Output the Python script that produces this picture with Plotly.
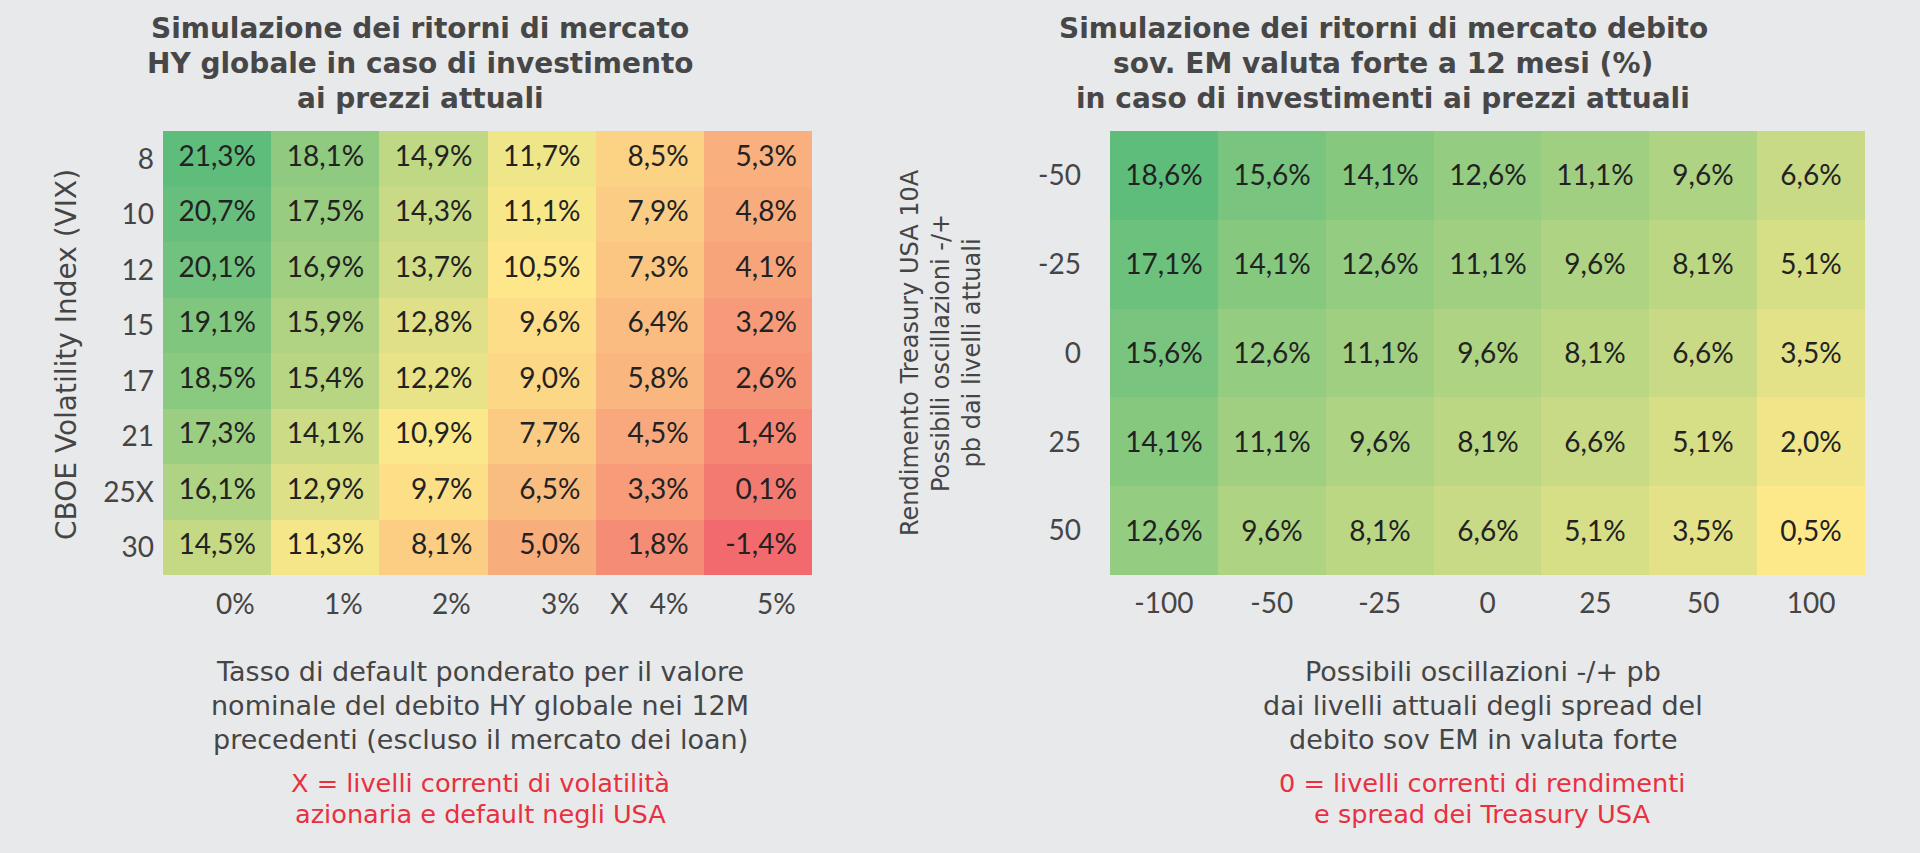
import numpy as np
import plotly.graph_objects as go

# ---------------- data ----------------
hy_default_labels = ["0%", "1%", "2%", "3%", "X\u00a0\u00a0\u00a04%", "5%"]
hy_vix_labels = ["8", "10", "12", "15", "17", "21", "25X", "30"]
hy_returns = [
    [21.3, 18.1, 14.9, 11.7, 8.5, 5.3],
    [20.7, 17.5, 14.3, 11.1, 7.9, 4.8],
    [20.1, 16.9, 13.7, 10.5, 7.3, 4.1],
    [19.1, 15.9, 12.8, 9.6, 6.4, 3.2],
    [18.5, 15.4, 12.2, 9.0, 5.8, 2.6],
    [17.3, 14.1, 10.9, 7.7, 4.5, 1.4],
    [16.1, 12.9, 9.7, 6.5, 3.3, 0.1],
    [14.5, 11.3, 8.1, 5.0, 1.8, -1.4],
]

em_spread_labels = ["-100", "-50", "-25", "0", "25", "50", "100"]
em_treasury_labels = ["-50", "-25", "0", "25", "50"]
em_returns = [
    [18.6, 15.6, 14.1, 12.6, 11.1, 9.6, 6.6],
    [17.1, 14.1, 12.6, 11.1, 9.6, 8.1, 5.1],
    [15.6, 12.6, 11.1, 9.6, 8.1, 6.6, 3.5],
    [14.1, 11.1, 9.6, 8.1, 6.6, 5.1, 2.0],
    [12.6, 9.6, 8.1, 6.6, 5.1, 3.5, 0.5],
]

title_left = ["Simulazione dei ritorni di mercato", "HY globale in caso di investimento", "ai prezzi attuali"]
title_right = ["Simulazione dei ritorni di mercato debito", "sov. EM valuta forte a 12 mesi (%)",
               "in caso di investimenti ai prezzi attuali"]
ytitle_left = "CBOE Volatility Index (VIX)"
ytitle_right = "Rendimento Treasury USA 10A<br>Possibili oscillazioni -/+<br>pb dai livelli attuali"
xnote_left = ["Tasso di default ponderato per il valore", "nominale del debito HY globale nei 12M",
              "precedenti (escluso il mercato dei loan)"]
xnote_right = ["Possibili oscillazioni -/+ pb", "dai livelli attuali degli spread del",
               "debito sov EM in valuta forte"]
rednote_left = ["X = livelli correnti di volatilità", "azionaria e default negli USA"]
rednote_right = ["0 = livelli correnti di rendimenti", "e spread dei Treasury USA"]

# ---------------- style ----------------
W, H = 1920, 853
BG = "#e8e9eb"
GREEN, YELLOW, RED = "#5fbd7c", "#fee98a", "#f26a6e"
TXT = "#454545"
REDTXT = "#e8303f"
NUMFONT = "Lato"
WIDEFONT = "DejaVu Sans"

def px_x(p):
    return p / W

def px_y(p):
    return 1 - p / H

def fmt(v):
    return f"{v:.1f}%".replace(".", ",")

hy = np.array(hy_returns)
em = np.array(em_returns)
hy_min, hy_max = hy.min(), hy.max()
hy_mid = (np.percentile(hy, 50) - hy_min) / (hy_max - hy_min)

fig = go.Figure()

# left heatmap
fig.add_trace(go.Heatmap(
    z=hy_returns, x=list(range(len(hy_default_labels))), y=list(range(len(hy_vix_labels))),
    colorscale=[[0, RED], [hy_mid, YELLOW], [1, GREEN]], zmin=hy_min, zmax=hy_max,
    showscale=False, hoverinfo="skip", xaxis="x", yaxis="y"))

# left cell text (right-aligned)
tx, ty, tt = [], [], []
for r, row in enumerate(hy_returns):
    for c, v in enumerate(row):
        tx.append(c + 0.36)
        ty.append(r)
        tt.append(fmt(v))
fig.add_trace(go.Scatter(
    x=tx, y=ty, text=tt, mode="text", textposition="middle left",
    textfont=dict(family=NUMFONT, size=28, color="#222222"),
    hoverinfo="skip", showlegend=False, xaxis="x", yaxis="y"))

# right heatmap
fig.add_trace(go.Heatmap(
    z=em_returns, x=list(range(len(em_spread_labels))), y=list(range(len(em_treasury_labels))),
    colorscale=[[0, YELLOW], [1, GREEN]], zmin=em.min(), zmax=em.max(),
    text=[[fmt(v) for v in row] for row in em_returns], texttemplate="%{text}",
    textfont=dict(family=NUMFONT, size=28, color="#222222"),
    showscale=False, hoverinfo="skip", xaxis="x2", yaxis="y2"))

top, bottom = 131, 575
ydom = [px_y(bottom), px_y(top)]
tickfont = dict(family=NUMFONT, size=28, color=TXT)

fig.update_layout(
    width=W, height=H, margin=dict(l=0, r=0, t=0, b=0),
    paper_bgcolor=BG, plot_bgcolor=BG, showlegend=False,
    xaxis=dict(domain=[px_x(163), px_x(812)], range=[-0.5, 5.5], showticklabels=False,
               showgrid=False, zeroline=False, anchor="y", fixedrange=True),
    yaxis=dict(domain=ydom, range=[7.5, -0.5], tickvals=list(range(len(hy_vix_labels))),
               ticktext=hy_vix_labels, ticks="", ticklabelstandoff=8, tickfont=tickfont,
               showgrid=False, zeroline=False, anchor="x"),
    xaxis2=dict(domain=[px_x(1110), px_x(1865)], range=[-0.5, 6.5],
                tickvals=list(range(len(em_spread_labels))), ticktext=em_spread_labels,
                ticks="", ticklabelstandoff=9, tickfont=tickfont,
                showgrid=False, zeroline=False, anchor="y2"),
    yaxis2=dict(domain=ydom, range=[4.5, -0.5], tickvals=list(range(len(em_treasury_labels))),
                ticktext=em_treasury_labels, ticks="", ticklabelstandoff=28, tickfont=tickfont,
                showgrid=False, zeroline=False, anchor="x2"),
)

ann = []
# left x tick labels, right-aligned in cells
for i, lab in enumerate(hy_default_labels):
    ann.append(dict(x=i + 0.37, y=px_y(603), xref="x", yref="paper", text=lab,
                    showarrow=False, xanchor="right", yanchor="middle", font=tickfont))

def add_lines(lines, cx, y0, dy, font):
    for k, line in enumerate(lines):
        ann.append(dict(x=px_x(cx), y=px_y(y0 + dy * k), xref="paper", yref="paper", text=line,
                        showarrow=False, xanchor="center", yanchor="middle", font=font))

title_font = dict(family=WIDEFONT, size=28, color="#474747", weight="bold")
note_font = dict(family=WIDEFONT, size=27, color=TXT)
red_font = dict(family=WIDEFONT, size=25.6, color=REDTXT)

add_lines(title_left, 420, 28, 35, title_font)
add_lines(title_right, 1383, 28, 35, title_font)
add_lines(xnote_left, 480, 671, 34, note_font)
add_lines(xnote_right, 1483, 671, 34, note_font)
add_lines(rednote_left, 480, 783, 30.5, red_font)
add_lines(rednote_right, 1482, 783, 30.5, red_font)

ann += [
    dict(x=px_x(66), y=px_y(355), xref="paper", yref="paper", text=ytitle_left, showarrow=False,
         textangle=-90, xanchor="center", yanchor="middle",
         font=dict(family=WIDEFONT, size=28, color=TXT)),
    dict(x=px_x(941), y=px_y(353), xref="paper", yref="paper", text=ytitle_right, showarrow=False,
         textangle=-90, xanchor="center", yanchor="middle", align="center",
         font=dict(family=WIDEFONT, size=24, color=TXT)),
]
fig.update_layout(annotations=ann)

fig.write_html("out.html", config={"displayModeBar": False},
               post_script="document.body.style.margin='0px';")
